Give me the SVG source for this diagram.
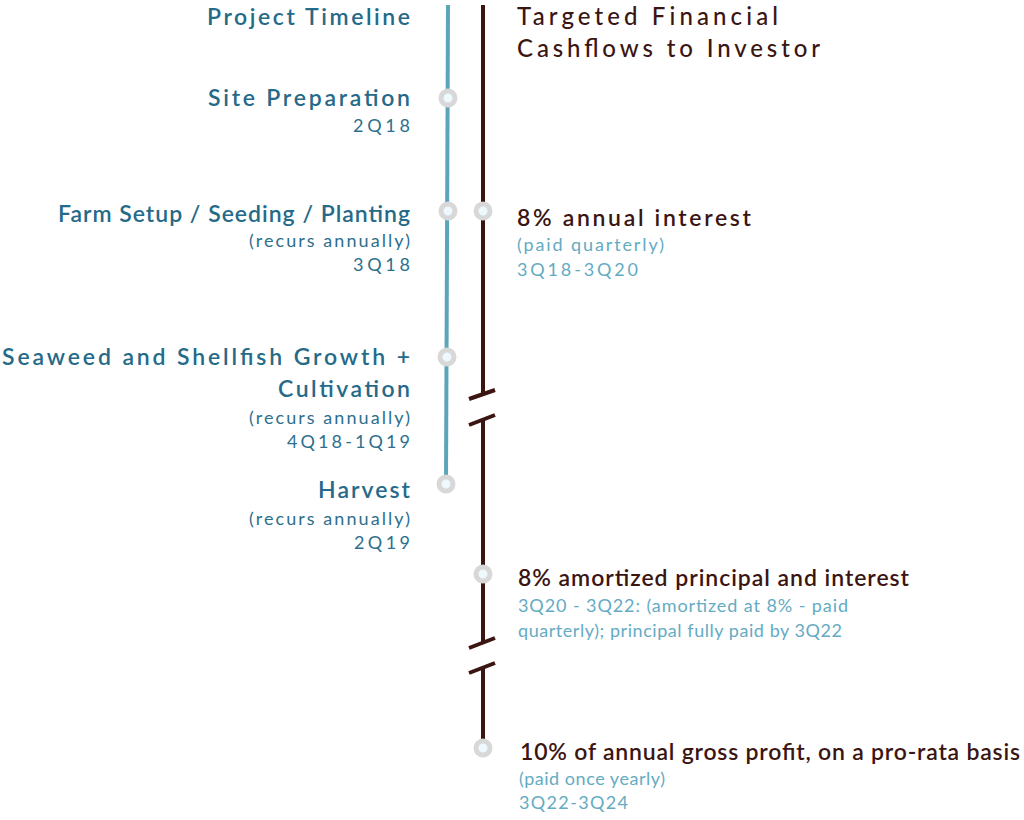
<svg xmlns="http://www.w3.org/2000/svg" width="1024" height="820" viewBox="0 0 1024 820">
<style>
text{font-family:Lato,"Open Sans",sans-serif}
.lt{fill:#256a88;font-size:23px;font-weight:600;text-anchor:end}
.ls{fill:#2d6f8c;font-size:18px;font-weight:400;text-anchor:end}
.rt{fill:#3b1512;font-size:24px;font-weight:500}
.rh{fill:#3b1512;font-size:23px;font-weight:600}
.rs{fill:#64abc3;font-size:18px;font-weight:400}
.blue{stroke:#5ca4ba;stroke-width:4;fill:none}
.dark{stroke:#3b1512;stroke-width:4;fill:none}
.dot{fill:#eef9fd;stroke:#d8d8d8;stroke-width:5}
</style>
<rect width="1024" height="820" fill="#ffffff"/>
<g id="connectors">
<path class="blue" d="M448 5 L446 484"/>
<path class="dark" d="M483 5 L483 395"/>
<path class="dark" d="M469 399 L495 390"/>
<path class="dark" d="M469 425 L495 415"/>
<path class="dark" d="M483 420 L483 643"/>
<path class="dark" d="M469 648 L495 638"/>
<path class="dark" d="M469 673 L495 663"/>
<path class="dark" d="M483 668 L483 748"/>
</g>
<g id="title-left"><text class="lt" x="410" y="25" textLength="203">Project Timeline</text></g>
<g id="title-right">
<text class="rt" x="517" y="25" textLength="261">Targeted Financial</text>
<text class="rt" x="517" y="57" textLength="303">Cashflows to Investor</text>
</g>
<g id="site-prep">
<circle class="dot" cx="448" cy="98" r="7"/>
<text class="lt" x="410" y="106" textLength="202">Site Preparation</text>
<text class="ls" x="410" y="132" textLength="57">2Q18</text>
</g>
<g id="farm-setup">
<circle class="dot" cx="448" cy="211" r="7"/>
<text class="lt" x="410" y="222" textLength="352">Farm Setup / Seeding / Planting</text>
<text class="ls" x="410" y="247" textLength="161">(recurs annually)</text>
<text class="ls" x="410" y="271" textLength="57">3Q18</text>
</g>
<g id="growth">
<circle class="dot" cx="447" cy="357" r="7"/>
<text class="lt" x="410" y="365" textLength="408">Seaweed and Shellfish Growth +</text>
<text class="lt" x="410" y="397" textLength="132">Cultivation</text>
<text class="ls" x="410" y="424" textLength="161">(recurs annually)</text>
<text class="ls" x="410" y="448" textLength="123">4Q18-1Q19</text>
</g>
<g id="harvest">
<circle class="dot" cx="446" cy="484" r="7"/>
<text class="lt" x="410" y="498" textLength="92">Harvest</text>
<text class="ls" x="410" y="525" textLength="161">(recurs annually)</text>
<text class="ls" x="410" y="549" textLength="56">2Q19</text>
</g>
<g id="interest">
<circle class="dot" cx="483" cy="211" r="7"/>
<text class="rh" x="517" y="226" textLength="234">8% annual interest</text>
<text class="rs" x="517" y="251" textLength="147">(paid quarterly)</text>
<text class="rs" x="517" y="276" textLength="121">3Q18-3Q20</text>
</g>
<g id="amortized">
<circle class="dot" cx="483" cy="574" r="7"/>
<text class="rh" x="518" y="586" textLength="391">8% amortized principal and interest</text>
<text class="rs" x="518" y="612" textLength="330">3Q20 - 3Q22: (amortized at 8% - paid</text>
<text class="rs" x="518" y="637" textLength="324">quarterly); principal fully paid by 3Q22</text>
</g>
<g id="profit">
<circle class="dot" cx="483" cy="748" r="7"/>
<text class="rh" x="520" y="760" textLength="500">10% of annual gross profit, on a pro-rata basis</text>
<text class="rs" x="519" y="785" textLength="146">(paid once yearly)</text>
<text class="rs" x="519" y="809" textLength="109">3Q22-3Q24</text>
</g>
</svg>
